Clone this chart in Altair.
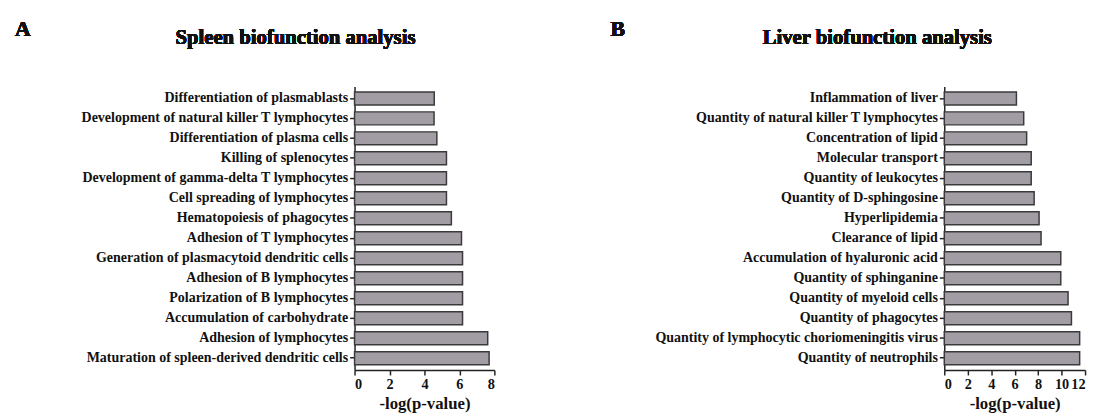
import altair as alt
import pandas as pd

spleen_terms = [
    "Differentiation of plasmablasts",
    "Development of natural killer T lymphocytes",
    "Differentiation of plasma cells",
    "Killing of splenocytes",
    "Development of gamma-delta T lymphocytes",
    "Cell spreading of lymphocytes",
    "Hematopoiesis of phagocytes",
    "Adhesion of T lymphocytes",
    "Generation of plasmacytoid dendritic cells",
    "Adhesion of B lymphocytes",
    "Polarization of B lymphocytes",
    "Accumulation of carbohydrate",
    "Adhesion of lymphocytes",
    "Maturation of spleen-derived dendritic cells",
]
spleen_values = [4.56, 4.55, 4.71, 5.26, 5.26, 5.26, 5.54, 6.12, 6.18, 6.18, 6.18, 6.18, 7.62, 7.70]

liver_terms = [
    "Inflammation of liver",
    "Quantity of natural killer T lymphocytes",
    "Concentration of lipid",
    "Molecular transport",
    "Quantity of leukocytes",
    "Quantity of D-sphingosine",
    "Hyperlipidemia",
    "Clearance of lipid",
    "Accumulation of hyaluronic acid",
    "Quantity of sphinganine",
    "Quantity of myeloid cells",
    "Quantity of phagocytes",
    "Quantity of lymphocytic choriomeningitis virus",
    "Quantity of neutrophils",
]
liver_values = [6.15, 6.77, 7.02, 7.41, 7.41, 7.66, 8.08, 8.25, 9.93, 9.93, 10.55, 10.84, 11.54, 11.54]

FONT = "Liberation Serif"
FILL = "#a29ca5"
STROKE = "#3a3a3a"


def panel(terms, values, xmax, tick_vals, letter, title, title_dx, letter_dx, width):
    df = pd.DataFrame({"term": terms, "value": values})
    base = alt.Chart(df)
    bars = base.mark_bar(fill=FILL, stroke=STROKE, strokeWidth=1.5).encode(
        x=alt.X(
            "value:Q",
            scale=alt.Scale(domain=[0, xmax], nice=False),
            axis=alt.Axis(
                title="-log(p-value)",
                values=tick_vals,
                format="d",
                grid=False,
                domainColor="#222",
                domainWidth=1.5,
                tickColor="#222",
                tickWidth=1.5,
                tickSize=5,
                labelFont=FONT,
                labelFontWeight="bold",
                labelFontSize=14.5,
                labelColor="#111",
                labelPadding=3,
                titleFont=FONT,
                titleFontWeight="bold",
                titleFontSize=17,
                titleColor="#111",
                titlePadding=5,
            ),
        ),
        y=alt.Y(
            "term:N",
            sort=terms,
            scale=alt.Scale(paddingInner=0.35, paddingOuter=0.27),
            axis=alt.Axis(
                title=None,
                grid=False,
                domainColor="#222",
                domainWidth=1.5,
                tickColor="#222",
                tickWidth=1.5,
                tickSize=5,
                labelFont=FONT,
                labelFontWeight="bold",
                labelFontSize=14.2,
                labelColor="#111",
                labelPadding=2,
                labelLimit=500,
            ),
        ),
    )
    t = base.mark_text(
        font=FONT, fontWeight="bold", fontSize=21, color="#111", baseline="middle", align="center"
    ).encode(x=alt.value(title_dx), y=alt.value(-49), text=alt.value(title))
    l = base.mark_text(
        font=FONT, fontWeight="bold", fontSize=22, color="#111", baseline="middle", align="left"
    ).encode(x=alt.value(letter_dx), y=alt.value(-58.5), text=alt.value(letter))
    return alt.layer(bars, t, l).properties(width=width, height=288)


a = panel(spleen_terms, spleen_values, 8, [0, 2, 4, 6, 8], "A",
          "Spleen biofunction analysis", -60, -345, 142)
b = panel(liver_terms, liver_values, 12, [0, 2, 4, 6, 8, 10, 12], "B",
          "Liver biofunction analysis", -68, -339, 143)

chart = alt.hconcat(a, b, spacing=117).properties(
    padding={"left": 7, "top": 6.5, "right": 3, "bottom": 5}
).configure(
    background="white", view=alt.ViewConfig(stroke=None)
)

chart.save("out.html", embed_options={"renderer": "svg", "actions": False})
